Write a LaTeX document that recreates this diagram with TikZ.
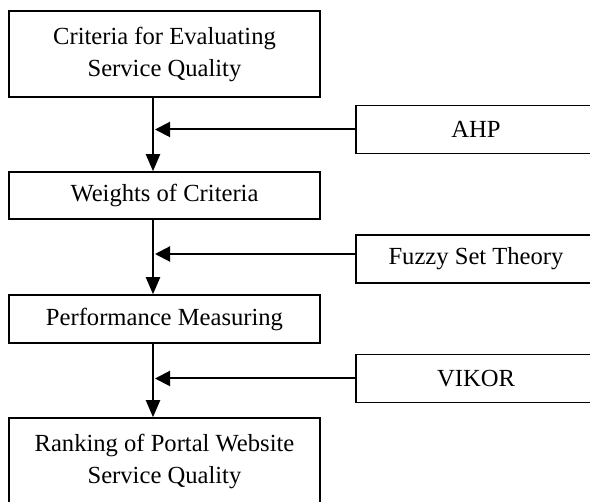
\documentclass[tikz,border=0pt]{standalone}
\usepackage{fontspec}
\setmainfont{Liberation Serif}
\usetikzlibrary{arrows.meta}

\begin{document}
\begin{tikzpicture}[x=0.5pt, y=-0.5pt,
    stagebox/.style={draw, line width=0.75pt, rectangle, minimum width=155.5pt, align=center,
        font=\fontsize{12.3}{16}\selectfont, inner sep=0pt},
    toolbox/.style={draw, line width=0.75pt, rectangle, minimum width=120pt, minimum height=24pt,
        align=center, font=\fontsize{12.3}{16}\selectfont, inner sep=0pt},
    flow/.style={line width=1pt, -{Triangle[length=8.5pt, width=7pt]}},
    feed/.style={line width=1pt, -{Triangle[length=7.5pt, width=7.5pt]}}]

    % Page size of the reference
    \useasboundingbox (0,0) rectangle (590,502);
    \clip (0,0) rectangle (590,502);

    % Main stages on the left
    \node[stagebox, minimum height=43pt] (crit) at (164.5, 54) {Criteria for Evaluating\\Service Quality};
    \node[stagebox, minimum height=23.5pt] (weights) at (164.5, 195.5) {Weights of Criteria};
    \node[stagebox, minimum height=24pt] (perf) at (164.5, 319) {Performance Measuring};
    \node[stagebox, minimum height=43pt] (rank) at (164.5, 461) {Ranking of Portal Website\\Service Quality};

    % Methods on the right (cut off by the page edge)
    \node[toolbox] (ahp) at (476, 129.5) {AHP};
    \node[toolbox] (fuzzy) at (476, 259) {Fuzzy Set Theory};
    \node[toolbox] (vikor) at (476, 378.5) {VIKOR};

    % Spine of the flow
    \coordinate (spine) at (153, 0);
    \coordinate (hit) at (155, 0);

    % Vertical arrows between stages
    \draw[flow] (crit.south -| spine) -- (weights.north -| spine);
    \draw[flow] (weights.south -| spine) -- (perf.north -| spine);
    \draw[flow] (perf.south -| spine) -- (rank.north -| spine);

    % Methods feeding into the flow
    \draw[feed] (ahp.west) -- (ahp.west -| hit);
    \draw[feed] ([yshift=2.5pt]fuzzy.west) -- ([yshift=2.5pt]fuzzy.west -| hit);
    \draw[feed] (vikor.west) -- (vikor.west -| hit);

\end{tikzpicture}
\end{document}
